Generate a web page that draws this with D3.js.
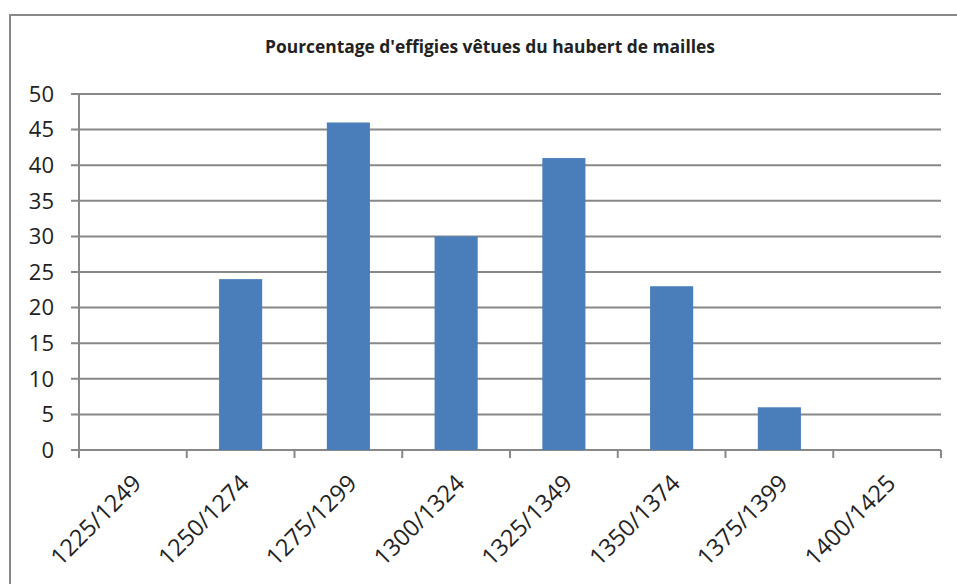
<!DOCTYPE html>
<html>
<head>
<meta charset="utf-8">
<script src="https://cdn.jsdelivr.net/npm/d3@7"></script>
<style>
  body { margin: 0; background: #fff; }
  text { font-family: "Open Sans", "Liberation Sans", sans-serif; }
</style>
</head>
<body>
<div id="chart"></div>
<script>
// periods and percentages
let periods = ["1225/1249", "1250/1274", "1275/1299", "1300/1324",
               "1325/1349", "1350/1374", "1375/1399", "1400/1425"]
let percents = [0, 24, 46, 30, 41, 23, 6, 0]
let yTicks = [0, 5, 10, 15, 20, 25, 30, 35, 40, 45, 50]
let title = "Pourcentage d'effigies vêtues du haubert de mailles"

let svg_width = 957
let svg_height = 584
let plotLeft = 79, plotRight = 941, plotTop = 94, plotBottom = 450

let svg = d3.select("#chart")
  .append("svg")
  .attr("width", svg_width)
  .attr("height", svg_height)

// outer chart frame (only top and left visible in the crop)
svg.append("path")
  .attr("d", `M10,${svg_height + 5} L10,15 L${svg_width + 5},15`)
  .attr("fill", "none")
  .attr("stroke", "#888")
  .attr("stroke-width", 2)

svg.append("text")
  .attr("x", 490)
  .attr("y", 53)
  .attr("text-anchor", "middle")
  .style("font-size", "17.4px")
  .style("font-weight", "bold")
  .style("fill", "#222")
  .text(title)

let xScale = d3.scaleBand()
  .domain(periods)
  .range([plotLeft, plotRight])
  .paddingInner(0.6)
  .paddingOuter(0.3)

let bandX = d3.scaleBand().domain(periods).range([plotLeft, plotRight])

let yScale = d3.scaleLinear()
  .domain([0, 50])
  .range([plotBottom, plotTop])

// gridlines
svg.append("g")
  .selectAll("line")
  .data(yTicks)
  .enter()
  .append("line")
  .attr("x1", plotLeft - 8)
  .attr("x2", plotRight)
  .attr("y1", d => yScale(d))
  .attr("y2", d => yScale(d))
  .attr("stroke", "#888")
  .attr("stroke-width", 2)

// y labels
svg.append("g")
  .selectAll("text")
  .data(yTicks)
  .enter()
  .append("text")
  .attr("x", 54)
  .attr("y", d => yScale(d))
  .attr("dy", "0.35em")
  .attr("text-anchor", "end")
  .style("font-size", "22px")
  .style("fill", "#222")
  .text(d => d)

// bars
svg.append("g")
  .selectAll("rect")
  .data(periods)
  .enter()
  .append("rect")
  .attr("x", d => xScale(d))
  .attr("width", xScale.bandwidth())
  .attr("y", (d, i) => yScale(percents[i]))
  .attr("height", (d, i) => yScale(0) - yScale(percents[i]))
  .style("fill", "#4a7ebb")

// axes lines
svg.append("line")
  .attr("x1", plotLeft).attr("x2", plotLeft)
  .attr("y1", plotTop).attr("y2", plotBottom)
  .attr("stroke", "#888").attr("stroke-width", 2)

let xTicks = periods.map(p => bandX(p)).concat([plotRight])
svg.append("g")
  .selectAll("line")
  .data(xTicks)
  .enter()
  .append("line")
  .attr("x1", d => d).attr("x2", d => d)
  .attr("y1", plotBottom).attr("y2", plotBottom + 8)
  .attr("stroke", "#888").attr("stroke-width", 2)

// rotated category labels
svg.append("g")
  .selectAll("text")
  .data(periods)
  .enter()
  .append("text")
  .attr("transform", d => `translate(${bandX(d) + bandX.bandwidth() / 2 + 4},${plotBottom + 29}) rotate(-45)`)
  .attr("text-anchor", "end")
  .attr("dy", "0.35em")
  .style("font-size", "23.5px")
  .style("fill", "#222")
  .text(d => d)
</script>
</body>
</html>
